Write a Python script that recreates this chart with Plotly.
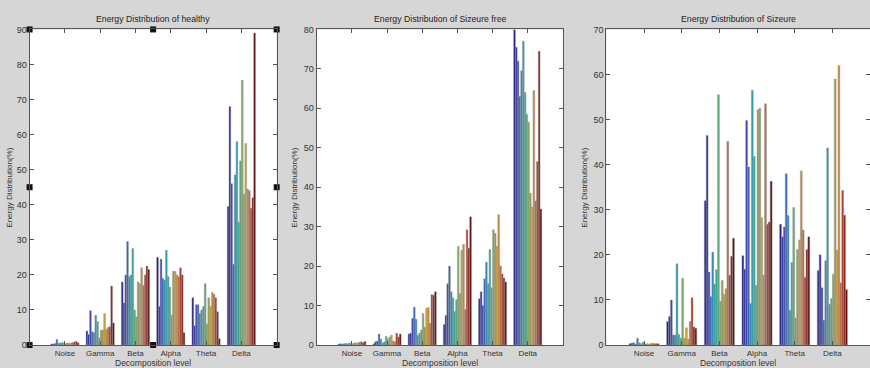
import plotly.graph_objects as go

categories = ["Noise", "Gamma", "Beta", "Alpha", "Theta", "Delta"]
titles = ["Energy Distribution of healthy", "Energy Distribution of Sizeure free", "Energy Distribution of Sizeure"]

# values per category (16 records per category)
healthy_noise = [0.3, 0.3, 0.4, 1.6, 0.5, 0.6, 0.7, 0.5, 0.4, 0.6, 0.5, 0.6, 0.7, 0.9, 1.0, 0.6]
healthy_gamma = [4.0, 3.0, 9.8, 3.8, 3.5, 8.5, 6.7, 2.0, 4.2, 4.3, 9.0, 4.5, 5.0, 5.2, 16.8, 6.3]
healthy_beta = [18, 12, 20, 29.5, 19.5, 20, 27.5, 10, 8, 18, 17.5, 22, 17, 20, 22.5, 21.5]
healthy_alpha = [25, 11, 24.5, 19, 18.5, 27, 19.5, 16.5, 8.5, 21, 21, 20, 19.5, 22, 20, 3.5]
healthy_theta = [13.5, 5.5, 11.5, 11.5, 9, 10, 11, 17.5, 6, 13.5, 11, 15, 14.5, 13.5, 9.5, 1.8]
healthy_delta = [39.5, 68, 46, 23, 48.5, 58, 35, 52.5, 75.5, 43, 57.5, 44.5, 44, 39, 42, 89]

free_noise = [0.2, 0.3, 0.2, 0.3, 0.4, 0.3, 0.5, 0.4, 0.3, 0.5, 0.6, 0.5, 0.7, 0.8, 0.6, 0.9]
free_gamma = [0.3, 0.8, 1.0, 2.8, 1.5, 0.5, 0.8, 2.2, 1.5, 2.0, 2.5, 1.0, 0.8, 3.0, 2.0, 2.8]
free_beta = [2.8, 3.0, 6.7, 9.6, 6.5, 2.5, 3.0, 3.8, 8.0, 4.5, 9.3, 9.5, 5.5, 12.8, 12.6, 13.5]
free_alpha = [5.2, 7.5, 15.5, 20, 13.5, 12, 8.5, 11.5, 25, 13, 24, 25.5, 9, 29.2, 24.5, 32.5]
free_theta = [11.7, 13.5, 10, 16.8, 21, 15.5, 24.2, 14.5, 29.2, 28.3, 25, 33, 20, 18, 17, 16]
free_delta = [80, 75.5, 72, 63, 69.5, 77, 64, 58.5, 56.5, 38.5, 35, 64.5, 36.5, 46.5, 74.5, 34.5]

seiz_noise = [0.3, 0.4, 0.5, 0.2, 1.5, 0.5, 0.3, 0.6, 0.2, 0.3, 0.2, 0.3, 0.4, 0.3, 0.3, 0.3]
seiz_gamma = [5.2, 6.3, 10, 2.2, 2.2, 18, 2.3, 1.5, 14.8, 1.5, 3.8, 1.3, 5.2, 10.5, 4.0, 3.7]
seiz_beta = [32, 46.5, 16.2, 10.7, 20.6, 13.5, 16.7, 55.5, 9.7, 14.3, 11.2, 12.5, 45.2, 15.5, 19.7, 23.7]
seiz_alpha = [19.8, 16.8, 49.8, 39.5, 9.2, 56.5, 41.8, 13.2, 52.2, 52.5, 28.2, 15.5, 53.5, 26.8, 27.3, 36.3]
seiz_theta = [26.8, 24, 26.2, 38, 28.7, 7.7, 18.3, 30.5, 6, 21.2, 23.3, 38.6, 25.5, 15, 21.2, 24]
seiz_delta = [16.5, 20, 12.7, 5.5, 18.7, 43.7, 9, 10.3, 15.7, 59, 21, 62, 13.8, 34.3, 28.8, 12.3]

y_max = [90, 80, 70]

panels = [
    [healthy_noise, healthy_gamma, healthy_beta, healthy_alpha, healthy_theta, healthy_delta],
    [free_noise, free_gamma, free_beta, free_alpha, free_theta, free_delta],
    [seiz_noise, seiz_gamma, seiz_beta, seiz_alpha, seiz_theta, seiz_delta],
]

colors = ["#1e1e80", "#2c2ca8", "#3a40b4", "#3560b8", "#2c86bc", "#28a0ae", "#38a894",
          "#5ea87a", "#80a866", "#9a9c58", "#c9a02c", "#c88a3a", "#b86a44", "#b23a26",
          "#8c2018", "#5c0c0c"]

x_domains = [[0.034, 0.318], [0.364, 0.647], [0.697, 1.0]]
y_domain = [0.0625, 0.92]
ytitle_x = [10, 295, 585]

fig = go.Figure()
xpos = list(range(1, len(categories) + 1))
for p, groups in enumerate(panels):
    n = len(groups[0])
    sfx = "" if p == 0 else str(p + 1)
    for i in range(n):
        fig.add_trace(go.Bar(
            x=xpos, y=[g[i] for g in groups],
            marker=dict(color=colors[i], line=dict(color="rgba(150,150,150,0.75)", width=0.6)),
            xaxis="x" + sfx, yaxis="y" + sfx, showlegend=False, offsetgroup=str(i),
        ))

axis_common = dict(showline=True, linecolor="#555", linewidth=1, mirror="ticks",
                   ticks="inside", ticklen=4, tickcolor="#555", showgrid=False, zeroline=False,
                   automargin=False)
layout = dict(
    barmode="group", bargap=0.2, bargroupgap=0,
    paper_bgcolor="#d6d6d6", plot_bgcolor="white",
    width=870, height=368, margin=dict(l=0, r=0, t=0, b=0, autoexpand=False),
    font=dict(family="Arial, Liberation Sans, sans-serif", size=8, color="#333"),
    annotations=[],
)
for p in range(3):
    sfx = "" if p == 0 else str(p + 1)
    layout["xaxis" + sfx] = dict(axis_common, domain=x_domains[p], range=[0, 7],
                                 tickvals=xpos, ticktext=categories, anchor="y" + sfx,
                                 tickfont=dict(size=8, color="#333"))
    layout["yaxis" + sfx] = dict(axis_common, domain=y_domain, range=[0, y_max[p]],
                                 dtick=10, anchor="x" + sfx, tickfont=dict(size=9, color="#333"))
    xc = (x_domains[p][0] + x_domains[p][1]) / 2
    layout["annotations"].append(dict(
        text=titles[p], xref="paper", yref="paper", x=xc, y=1 - 19.5 / 368,
        xanchor="center", yanchor="middle", showarrow=False, font=dict(size=8.7, color="#222")))
    layout["annotations"].append(dict(
        text="Decomposition level", xref="paper", yref="paper", x=xc, y=1 - 363 / 368,
        xanchor="center", yanchor="middle", showarrow=False, font=dict(size=8.5, color="#333")))
    layout["annotations"].append(dict(
        text="Energy Distribution(%)", xref="paper", yref="paper", x=ytitle_x[p] / 870, y=0.49,
        xanchor="center", yanchor="middle", textangle=-90, showarrow=False, font=dict(size=8, color="#333")))
fig.update_layout(**layout)

# MATLAB selection handles on the first axes
hx = [0, 0, 0, 3.5, 3.5, 7, 7, 7]
hy = [0, 45, 90, 90, 0, 90, 45, 0]
fig.add_trace(go.Scatter(x=hx, y=hy, mode="markers", xaxis="x", yaxis="y", showlegend=False,
                         cliponaxis=False,
                         marker=dict(symbol="square", size=6, color="#111", line=dict(color="#111", width=0))))

fig.write_html("out.html", config={"displayModeBar": False},
               post_script="document.body.style.margin='0px';document.body.style.background='#d6d6d6';")
